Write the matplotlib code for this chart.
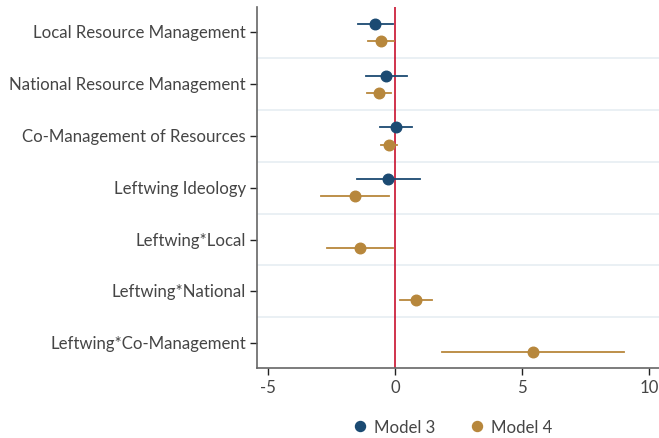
import matplotlib
matplotlib.use("Agg")
import matplotlib.pyplot as plt
from matplotlib.lines import Line2D
import matplotlib.transforms as mtransforms

plt.rcParams['font.family'] = ['Lato', 'DejaVu Sans']

categories = ["Local Resource Management", "National Resource Management",
              "Co-Management of Resources", "Leftwing Ideology",
              "Leftwing*Local", "Leftwing*National", "Leftwing*Co-Management"]

# Model 3 (only first four terms)
m3_est = [-0.77, -0.34, 0.04, -0.26, None, None, None]
m3_lo = [-1.44, -1.14, -0.59, -1.51, None, None, None]
m3_hi = [-0.09, 0.47, 0.67, 0.98, None, None, None]

# Model 4
m4_est = [-0.56, -0.64, -0.22, -1.57, -1.38, 0.84, 5.42]
m4_lo = [-1.05, -1.09, -0.54, -2.91, -2.67, 0.22, 1.86]
m4_hi = [-0.05, -0.17, 0.09, -0.25, -0.09, 1.48, 9.02]

xticks = [-5, 0, 5, 10]

c3 = "#1b4a72"
c4 = "#b7873c"
text_c = "#454545"

fig = plt.figure(figsize=(6.59, 4.39), dpi=100)
ax = fig.add_axes([257/659, 1 - 369/439, 1 - 257/659, (369 - 8)/439])

off = 0.165
for i, name in enumerate(categories):
    y = i + 1
    if m3_est[i] is not None:
        ax.plot([m3_lo[i], m3_hi[i]], [y - off, y - off], color=c3, lw=1.3, zorder=3)
        ax.plot(m3_est[i], y - off, 'o', color=c3, ms=7.6, zorder=4)
    ax.plot([m4_lo[i], m4_hi[i]], [y + off, y + off], color=c4, lw=1.3, zorder=3)
    ax.plot(m4_est[i], y + off, 'o', color=c4, ms=7.6, zorder=4)

# separators between categories
for k in range(1, len(categories)):
    ax.axhline(k + 0.5, color="#eaf0f4", lw=1.4, zorder=1)

ax.axvline(0, color="#c8102e", lw=1.2, zorder=2)

ax.set_xlim(-5.43, 10.4)
ax.set_ylim(len(categories) + 0.48, 0.51)
ax.set_yticks(range(1, len(categories) + 1))
ax.set_yticklabels(categories)
ax.set_xticks(xticks)
ax.set_xticklabels([str(t) for t in xticks])

for s in ["top", "right"]:
    ax.spines[s].set_visible(False)
for s in ["left", "bottom"]:
    ax.spines[s].set_color("#666666")
    ax.spines[s].set_linewidth(1.2)
ax.tick_params(axis='both', colors="#222222", labelcolor=text_c, labelsize=12.1,
               length=5, width=1.0, pad=3)

shift = mtransforms.ScaledTranslation(0, 1.5 / 100, fig.dpi_scale_trans)
for lab in ax.get_yticklabels():
    lab.set_transform(lab.get_transform() + shift)

handles = [Line2D([], [], marker='o', ls='none', color=c3, ms=7.2, label="Model 3"),
           Line2D([], [], marker='o', ls='none', color=c4, ms=7.2, label="Model 4")]
leg = fig.legend(handles=handles, loc='center', bbox_to_anchor=(452/659, 1 - 428/439),
                 ncol=2, frameon=False, fontsize=12.1, handletextpad=0.3,
                 columnspacing=2.0, handlelength=1.0)
for t in leg.get_texts():
    t.set_color(text_c)

fig.savefig("out.png", dpi=100)
